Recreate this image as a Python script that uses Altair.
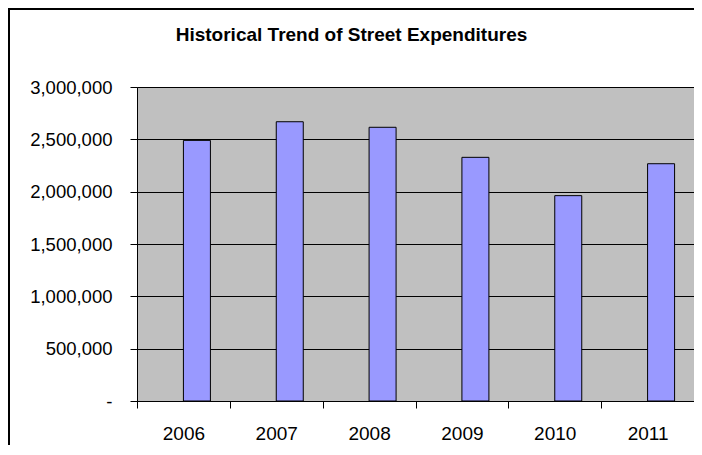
import altair as alt
import pandas as pd

years = ["2006", "2007", "2008", "2009", "2010", "2011"]
expenditures = [2490000, 2668000, 2615000, 2328000, 1962000, 2267000]
series_names = ["blank", "Expenditures"]
y_ticks = [0, 500000, 1000000, 1500000, 2000000, 2500000, 3000000]

df = pd.DataFrame({"year": years, "value": expenditures, "series": "Expenditures"})

FONT = "Liberation Sans"

bars = alt.Chart(df).mark_bar(
    color="#9999FF", stroke="#000000", strokeWidth=1
).encode(
    x=alt.X("year:N", sort=years,
            scale=alt.Scale(paddingInner=0, paddingOuter=0),
            axis=alt.Axis(title=None, labelAngle=0, tickBand="extent", tickSize=7,
                          labelPadding=16, labelFontSize=19, labelFont=FONT,
                          labelColor="#000000", domainColor="#000000", tickColor="#000000",
                          grid=False)),
    xOffset=alt.XOffset("series:N", scale=alt.Scale(domain=series_names,
                                                      paddingInner=0, paddingOuter=0.719)),
    y=alt.Y("value:Q", scale=alt.Scale(domain=[0, 3000000], nice=False),
            axis=alt.Axis(title=None, values=y_ticks, tickSize=7, labelPadding=18,
                          labelFontSize=18.5, labelFont=FONT, labelColor="#000000",
                          labelExpr="datum.value == 0 ? '-' : format(datum.value, ',')",
                          domainColor="#000000", tickColor="#000000",
                          grid=True, gridColor="#000000", gridWidth=1)),
)

one_row = alt.Data(values=[{"k": 1}])
frame_left = alt.Chart(one_row).mark_rule(color="#000000", strokeWidth=2).encode(
    x=alt.value(-128), y=alt.value(-78), y2=alt.value(380)
)
frame_top = alt.Chart(one_row).mark_rule(color="#000000", strokeWidth=2).encode(
    x=alt.value(-129), x2=alt.value(557), y=alt.value(-78)
)

chart = alt.layer(bars, frame_left, frame_top).properties(
    width=557,
    height=314,
    autosize=alt.AutoSizeParams(type="none"),
    padding={"left": 129, "top": 79, "right": 0, "bottom": 44},
    background="#ffffff",
    title=alt.TitleParams("Historical Trend of Street Expenditures", fontSize=19,
                          fontWeight="bold", font=FONT, color="#000000",
                          anchor="middle", frame="group", dx=-64, dy=52,
                          baseline="alphabetic", offset=0),
).configure_view(
    fill="#C0C0C0", stroke="#808080", strokeWidth=1
)

chart.save("out.html", embed_options={"renderer": "svg", "actions": False})
